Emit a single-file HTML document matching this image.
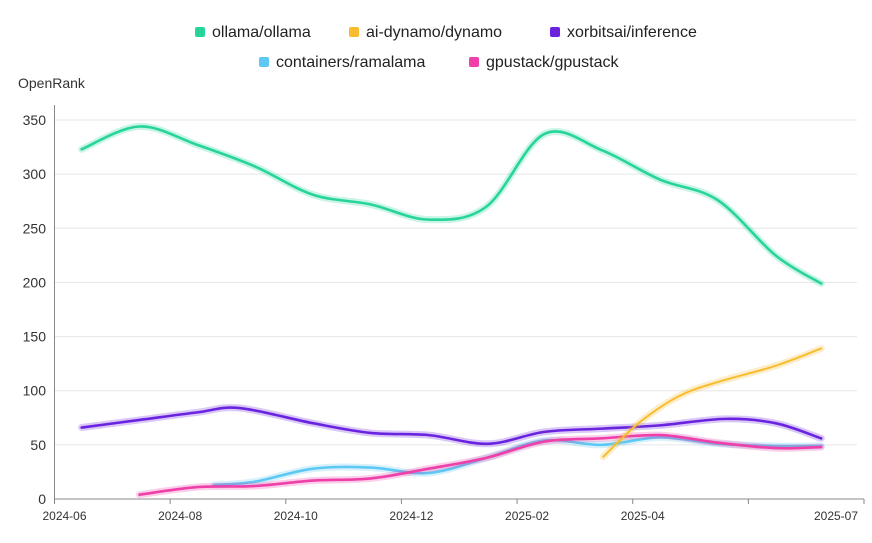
<!DOCTYPE html>
<html><head><meta charset="utf-8"><style>
body{margin:0;background:#fff;font-family:"Liberation Sans",sans-serif}
svg text{font-family:"Liberation Sans",sans-serif}
</style></head><body>
<svg id="chart" width="872" height="538">
<g id="legend"></g>
<text x="18" y="88" font-size="14" fill="#333">OpenRank</text>
<g id="grid"></g>
<g id="series"></g>
<g id="axes"></g>
</svg>
<script>
const yTicks=[0,50,100,150,200,250,300,350];
const xTickPos=[0,2,4,6,8,10,12,14];
const xTickLabels=['2024-06','2024-08','2024-10','2024-12','2025-02','2025-04','','2025-07'];
const seriesNames=['ollama/ollama','ai-dynamo/dynamo','xorbitsai/inference','containers/ramalama','gpustack/gpustack'];
const seriesColors=['#27d49a','#f7bd2e','#6a24e0','#5ec8f4','#ef3fa8'];
// month positions (months since 2024-06-01)
const ollamaX=[0.47,1.47,2.47,3.47,4.47,5.47,6.47,7.47,8.47,9.47,10.47,11.47,12.47,13.26];
const ollamaV=[323,344,327,307,281,272,258,270,337,322,295,276,225,199];
const dynamoX=[9.49,10.1,10.8,11.47,12.47,13.26];
const dynamoV=[39,70,95,108,123,139];
const xorbX=[0.47,1.47,2.47,3.2,4.47,5.47,6.47,7.5,8.47,9.47,10.47,11.6,12.47,13.26];
const xorbV=[66,73,80,84,70,61,59,51,62,65,68,74,70,56];
const ramaX=[2.76,3.47,4.47,5.47,6.47,7.47,8.47,9.47,10.47,11.47,12.47,13.26];
const ramaV=[13,16,28,29,24,38,54,50,57,51,49,49];
const gpuX=[1.47,2.47,3.47,4.47,5.47,6.47,7.47,8.47,9.47,10.47,11.47,12.47,13.26];
const gpuV=[4,11,12,17,19,28,38,53,56,59,52,47,48];

const NS='http://www.w3.org/2000/svg';
const X0=54.5,X1=864,Y0=499,Y1=120;
const xs=m=>X0+m*(X1-X0)/14;
const ys=v=>Y0-v*(Y0-Y1)/350;
function mk(t,a,p){const e=document.createElementNS(NS,t);for(const k in a)e.setAttribute(k,a[k]);p.appendChild(e);return e;}
const grid=document.getElementById('grid'),axes=document.getElementById('axes'),ser=document.getElementById('series'),leg=document.getElementById('legend');
yTicks.forEach(v=>{
 if(v>0){const l=mk('line',{x1:X0,x2:857,y1:ys(v),y2:ys(v),stroke:'#e6e6e6'},grid);
 
 }
 const t=mk('text',{x:46,y:ys(v)+5,'text-anchor':'end','font-size':14,fill:'#333'},axes);t.textContent=v;
 
 
});
const ax=mk('line',{x1:X0,x2:X0,y1:105,y2:Y0,stroke:'#888'},axes);


const bx=mk('line',{x1:X0,x2:X1,y1:Y0,y2:Y0,stroke:'#888'},axes);


xTickPos.forEach((m,i)=>{
 const tk=mk('line',{x1:xs(m),x2:xs(m),y1:Y0,y2:Y0+5,stroke:'#888'},axes);
 
 
 const t=mk('text',{x:i==xTickPos.length-1?xs(m)-28:xs(m)+10,y:520,'text-anchor':'middle','font-size':12,fill:'#333'},axes);t.textContent=xTickLabels[i];
 
 
});
function path(X,V){const p=X.map((m,i)=>[xs(m),ys(V[i])]);let d='M'+p[0][0]+','+p[0][1];
 for(let i=0;i<p.length-1;i++){const a=p[i-1]||p[i],b=p[i],c=p[i+1],e=p[i+2]||c;
 d+=` C${b[0]+(c[0]-a[0])/6},${b[1]+(c[1]-a[1])/6} ${c[0]-(e[0]-b[0])/6},${c[1]-(e[1]-b[1])/6} ${c[0]},${c[1]}`;}return d;}
const data=[[ollamaX,ollamaV],[dynamoX,dynamoV],[xorbX,xorbV],[ramaX,ramaV],[gpuX,gpuV]];
const order=[0,2,3,4,1];
order.forEach(i=>{const d=path(data[i][0],data[i][1]);
 const g=mk('path',{d,fill:'none',stroke:seriesColors[i],'stroke-width':7,'stroke-opacity':0.25,'stroke-linecap':'round'},ser);
 
 
 const l=mk('path',{d,fill:'none',stroke:seriesColors[i],'stroke-width':i==1?2:2.6,'stroke-linecap':'round'},ser);
 
 
});
const legPos=[[200,32],[354,32],[555,32],[264,62],[474,62]];
seriesNames.forEach((n,i)=>{const [x,y]=legPos[i];
 const g=mk('g',{},leg);
 
 
 mk('rect',{x:x-5,y:y-5,width:10,height:10,rx:2,fill:seriesColors[i]},g);
 const t=mk('text',{x:x+12,y:y+5,'font-size':16,fill:'#222'},g);t.textContent=n;
});
</script>
</body></html>
